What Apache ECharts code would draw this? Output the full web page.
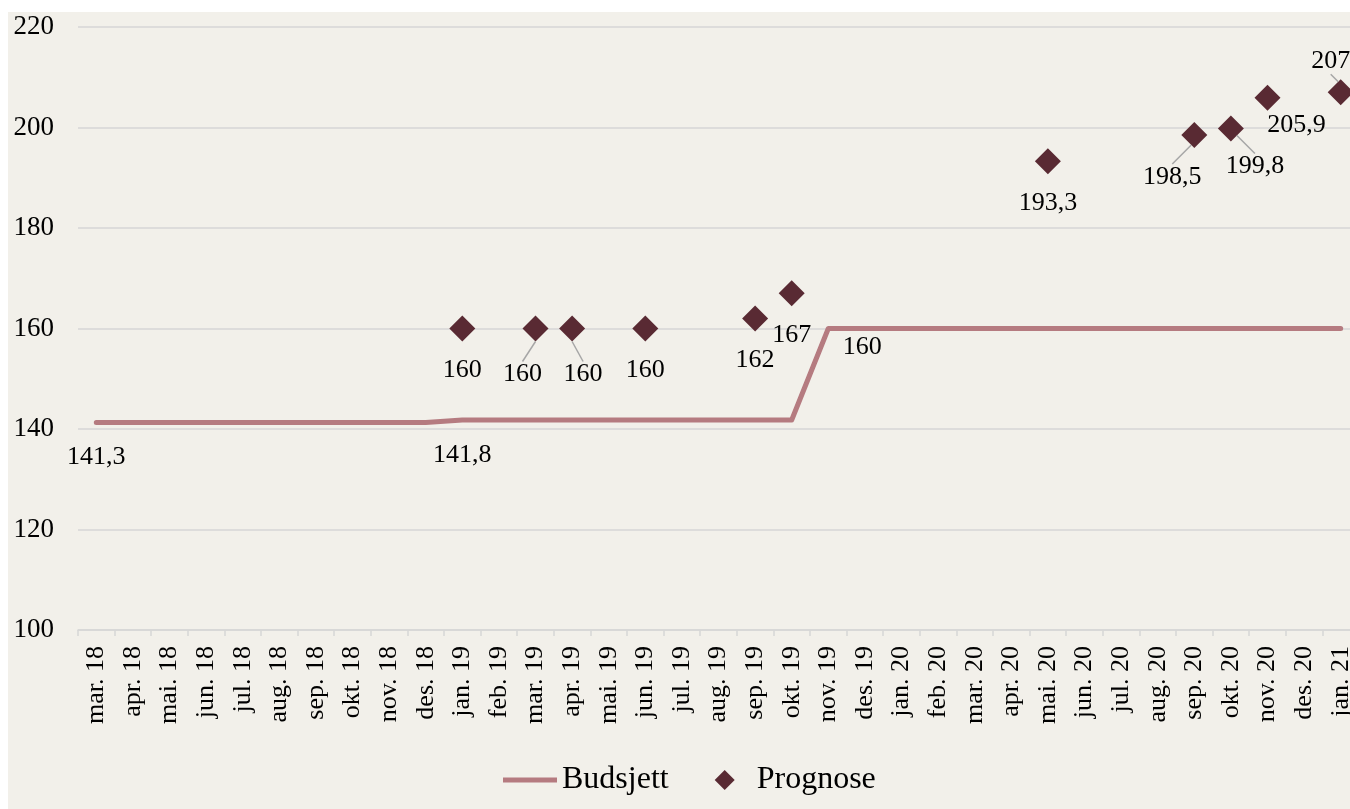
<!DOCTYPE html>
<html>
<head>
<meta charset="utf-8">
<script src="https://cdn.jsdelivr.net/npm/echarts@6/dist/echarts.min.js"></script>
<style>
  html, body { margin: 0; padding: 0; background: #ffffff; overflow: hidden; width: 1350px; height: 809px; }
  #chart { position: absolute; left: 8px; top: 12px; width: 1351px; height: 797px; background: #f2f0ea; }
</style>
</head>
<body>
<div id="chart"></div>
<script>
// Months on the category axis
const months = [
  'mar. 18', 'apr. 18', 'mai. 18', 'jun. 18', 'jul. 18', 'aug. 18', 'sep. 18', 'okt. 18', 'nov. 18', 'des. 18',
  'jan. 19', 'feb. 19', 'mar. 19', 'apr. 19', 'mai. 19', 'jun. 19', 'jul. 19', 'aug. 19', 'sep. 19', 'okt. 19',
  'nov. 19', 'des. 19', 'jan. 20', 'feb. 20', 'mar. 20', 'apr. 20', 'mai. 20', 'jun. 20', 'jul. 20', 'aug. 20',
  'sep. 20', 'okt. 20', 'nov. 20', 'des. 20', 'jan. 21'
];

// Budget level per month
const budsjett = [
  141.3, 141.3, 141.3, 141.3, 141.3, 141.3, 141.3, 141.3, 141.3, 141.3,
  141.8, 141.8, 141.8, 141.8, 141.8, 141.8, 141.8, 141.8, 141.8, 141.8,
  160, 160, 160, 160, 160, 160, 160, 160, 160, 160,
  160, 160, 160, 160, 160
];

// Budget points that carry a value label
const budsjettLabelled = ['mar. 18', 'jan. 19', 'nov. 19'];

// Forecasts: month and value
const prognoseMonths = ['jan. 19', 'mar. 19', 'apr. 19', 'jun. 19', 'sep. 19', 'okt. 19', 'mai. 20', 'sep. 20', 'okt. 20', 'nov. 20', 'jan. 21'];
const prognoseValues = [160, 160, 160, 160, 162, 167, 193.3, 198.5, 199.8, 205.9, 207];

// Y axis
const yMin = 100, yMax = 220, yStep = 20;

const FONT = '"Liberation Serif", "Times New Roman", serif';
const LINE_COLOR = '#b57b80';
const DOT_COLOR = '#592a33';

const fmt = v => String(v).replace('.', ',');

// Label shifts for crowded forecast labels [dx, dy, guide line]
const prognoseNudge = {
  'mar. 19': [-13, 4, true],
  'apr. 19': [11, 4, true],
  'sep. 20': [-22, 0, true],
  'okt. 20': [24, -4, true],
  'nov. 20': [29, -15, false],
  'jan. 21': [-10, -73, true]
};

// Label placement for the labelled budget points
const budsjettLabelPos = {
  'mar. 18': { position: 'bottom', distance: 21, offset: [0, 0] },
  'jan. 19': { position: 'bottom', distance: 21, offset: [0, 0] },
  'nov. 19': { position: 'bottom', distance: 5, offset: [34, 0] }
};

const budsjettData = budsjett.map((v, i) => {
  const m = months[i];
  if (budsjettLabelled.indexOf(m) < 0) return v;
  const p = budsjettLabelPos[m];
  return {
    value: v,
    symbol: 'circle',
    symbolSize: 2,
    itemStyle: { color: 'rgba(0,0,0,0)' },
    label: {
      show: true,
      position: p.position,
      distance: p.distance,
      offset: p.offset,
      formatter: q => fmt(q.value),
      fontFamily: FONT,
      fontSize: 26,
      color: '#000'
    }
  };
});

const prognoseData = prognoseMonths.map((m, i) => {
  const n = prognoseNudge[m];
  const item = { value: [m, prognoseValues[i]] };
  if (n && n[2]) item.labelLine = { show: true };
  return item;
});

const chart = echarts.init(document.getElementById('chart'), null, { renderer: 'canvas' });

chart.setOption({
  animation: false,
  backgroundColor: '#f2f0ea',
  grid: {
    left: 70, right: 0, top: 15, bottom: 179,
    containLabel: false,
    outerBoundsMode: 'none'
  },
  legend: {
    left: 490,
    top: 747,
    itemWidth: 54,
    itemHeight: 20,
    itemGap: 46,
    itemTextGap: 5,
    textStyle: { fontFamily: FONT, fontSize: 32, color: '#000' },
    data: [
      { name: 'Budsjett', icon: 'path://M0,0L54,0L54,5L0,5Z', itemStyle: { color: LINE_COLOR } },
      { name: 'Prognose', icon: 'path://M10,0L20,10L10,20L0,10Z', itemStyle: { color: DOT_COLOR, opacity: 1 } }
    ]
  },
  xAxis: {
    type: 'category',
    data: months,
    boundaryGap: true,
    axisLine: { show: true, lineStyle: { color: '#d6d6d6', width: 1.5 } },
    axisTick: { show: true, length: 6, lineStyle: { color: '#d6d6d6', width: 1.5 } },
    axisLabel: {
      interval: 0,
      rotate: 90,
      margin: 16,
      fontFamily: FONT,
      fontSize: 26,
      color: '#000'
    },
    splitLine: { show: false }
  },
  yAxis: {
    type: 'value',
    min: yMin,
    max: yMax,
    interval: yStep,
    axisLine: { show: false },
    axisTick: { show: false },
    axisLabel: { margin: 24, fontFamily: FONT, fontSize: 27, color: '#000' },
    splitLine: { lineStyle: { color: '#d6d6d6', width: 1.5 } }
  },
  series: [
    {
      name: 'Budsjett',
      type: 'line',
      data: budsjettData,
      symbol: 'none',
      showAllSymbol: true,
      color: LINE_COLOR,
      lineStyle: { color: LINE_COLOR, width: 5, join: 'round', cap: 'round' },
      itemStyle: { color: LINE_COLOR },
      z: 2
    },
    {
      name: 'Prognose',
      type: 'scatter',
      data: prognoseData,
      symbol: 'diamond',
      symbolSize: 26,
      color: DOT_COLOR,
      itemStyle: { color: DOT_COLOR, opacity: 1 },
      label: {
        show: true,
        position: 'bottom',
        distance: 16,
        formatter: p => fmt(p.value[1]),
        fontFamily: FONT,
        fontSize: 26,
        color: '#000',
        opacity: 1
      },
      labelLine: {
        show: false,
        showAbove: true,
        lineStyle: { color: '#a6a6a6', width: 1.5 }
      },
      labelLayout: p => {
        const n = prognoseNudge[prognoseMonths[p.dataIndex]];
        return n ? { dx: n[0], dy: n[1] } : {};
      },
      emphasis: { disabled: true },
      z: 3
    }
  ]
});
</script>
</body>
</html>
